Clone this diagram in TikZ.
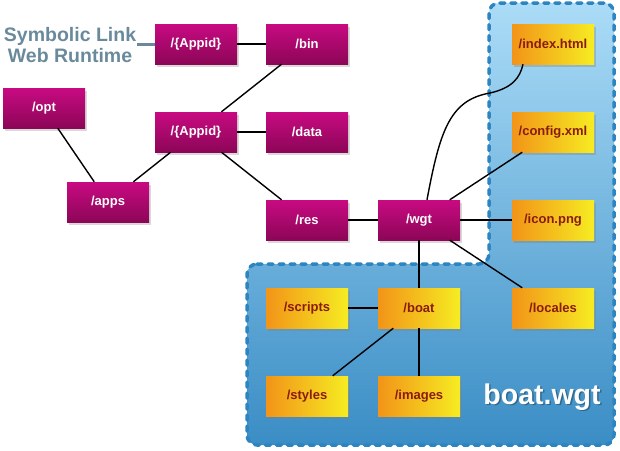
\documentclass[tikz,border=0pt]{standalone}
\usepackage{fontspec}
\setmainfont{Liberation Sans}
\usetikzlibrary{shadows}
\definecolor{magtop}{HTML}{C80A82}
\definecolor{magbot}{HTML}{8C0657}
\definecolor{orl}{HTML}{F29418}
\definecolor{orr}{HTML}{F6EC22}
\definecolor{ortext}{HTML}{8A1C0E}
\definecolor{bltop}{HTML}{ABDCF7}
\definecolor{blbot}{HTML}{3A8DC5}
\definecolor{bledge}{HTML}{2C84C0}
\definecolor{lbl}{HTML}{6A8A9C}
\tikzset{
  magbox/.style={rectangle, minimum width=82pt, minimum height=40pt, inner sep=0pt,
    top color=magtop, bottom color=magbot, text=white,
    font=\fontsize{13}{15}\selectfont\bfseries,
    drop shadow={shadow xshift=2pt, shadow yshift=-2.5pt, opacity=0.3}},
  orbox/.style={rectangle, minimum width=82pt, minimum height=40pt, inner sep=0pt,
    left color=orl, right color=orr, text=ortext,
    font=\fontsize{13}{15}\selectfont\bfseries,
    drop shadow={shadow xshift=2pt, shadow yshift=-2.5pt, opacity=0.35}},
  link/.style={black, line width=1.4pt},
  bigtext/.style={font=\fontsize{28.5}{30}\selectfont\bfseries},
}
\begin{document}
\begin{tikzpicture}[x=1pt,y=-1pt]
\useasboundingbox (0,0) rectangle (620,450);
% region
\shade[top color=bltop, bottom color=blbot, rounded corners=10pt]
  (247,264) -- (489,264) -- (489,3) -- (614,3) -- (614,445) -- (247,445) -- cycle;
\draw[bledge, line width=3.5pt, dash pattern=on 5pt off 6pt, line cap=round, rounded corners=10pt]
  (247,264) -- (489,264) -- (489,3) -- (614,3) -- (614,445) -- (247,445) -- cycle;
\node[bigtext, text=black, text opacity=0.3] (bws) at (543.5,398.5) {boat.wgt};
\node[bigtext, text=white] (bw) at (542,397) {boat.wgt};
% label
\node[text=lbl, font=\fontsize{19.5}{21}\selectfont\bfseries, align=center, inner sep=1pt] (sl) at (70,45) {Symbolic Link\\Web Runtime};
% nodes
\node[magbox] (app1) at (196,44) {/\{Appid\}};
\node[magbox] (bin) at (307,44) {/bin};
\node[magbox] (opt) at (44,108) {/opt};
\node[magbox] (app2) at (196,132) {/\{Appid\}};
\node[magbox] (data) at (307,132) {/data};
\node[magbox] (apps) at (108,202) {/apps};
\node[magbox] (res) at (307,220) {/res};
\node[magbox] (wgt) at (419,220) {/wgt};
\node[orbox] (index) at (553,44) {/index.html};
\node[orbox] (config) at (553,132) {/config.xml};
\node[orbox] (icon) at (553,220) {/icon.png};
\node[orbox] (scripts) at (307,308) {/scripts};
\node[orbox] (boat) at (419,308) {/boat};
\node[orbox] (locales) at (553,308) {/locales};
\node[orbox] (styles) at (307,396) {/styles};
\node[orbox] (images) at (419,396) {/images};
% connectors
\draw[lbl, line width=3pt] (sl.east |- app1.west) -- (app1.west);
\draw[link] (app1) -- (bin);
\draw[link] (bin) -- (app2);
\draw[link] (opt) -- (apps);
\draw[link] (apps) -- (app2);
\draw[link] (app2) -- (data);
\draw[link] (app2) -- (res);
\draw[link] (res) -- (wgt);
\draw[link] ([xshift=8pt]wgt.north) .. controls (440,130) and (450,100) .. (490,93) .. controls (512,88) and (520,78) .. ([xshift=-30pt]index.south);
\draw[link] (wgt) -- (config);
\draw[link] (wgt) -- (icon);
\draw[link] (wgt) -- (locales);
\draw[link] (wgt) -- (boat);
\draw[link] (scripts) -- (boat);
\draw[link] (boat) -- (styles);
\draw[link] (boat) -- (images);
\end{tikzpicture}
\end{document}
